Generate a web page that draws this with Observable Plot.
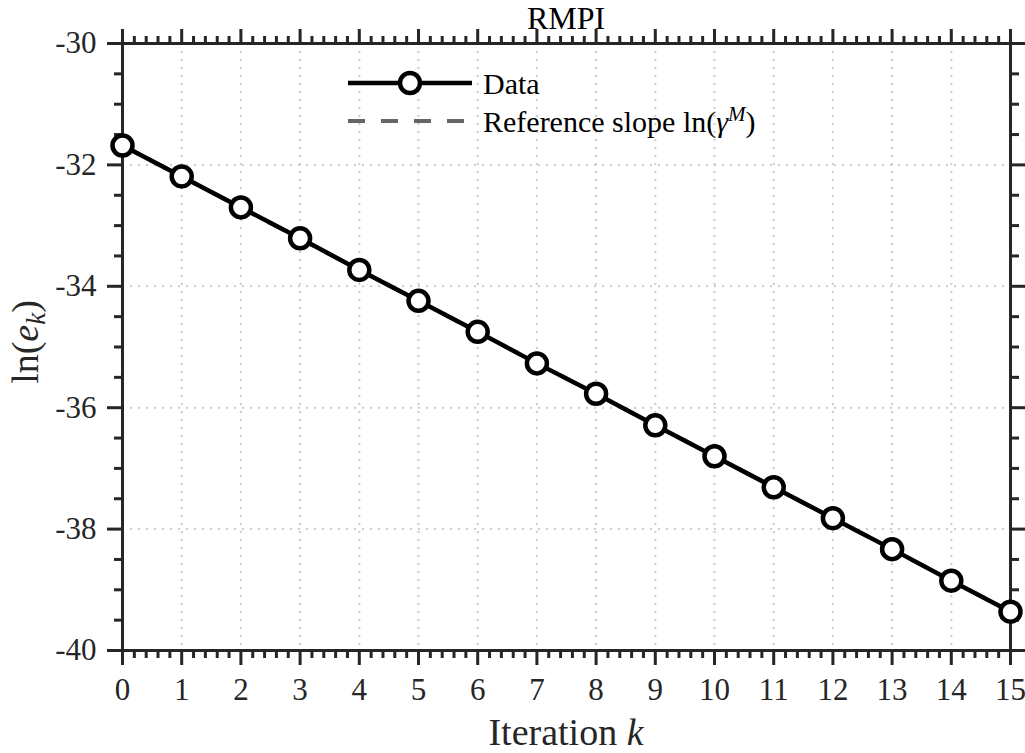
<!DOCTYPE html>
<html>
<head>
<meta charset="utf-8">
<script src="https://cdn.jsdelivr.net/npm/d3@7"></script>
<script src="https://cdn.jsdelivr.net/npm/@observablehq/plot@0.6"></script>
<style>
  html, body { margin: 0; padding: 0; background: #fff; }
  #chart svg { display: block; }
</style>
</head>
<body>
<div id="chart"></div>
<script>
// ---- data ----
const iterations = [0, 1, 2, 3, 4, 5, 6, 7, 8, 9, 10, 11, 12, 13, 14, 15];
const lnError = [-31.68, -32.19, -32.70, -33.21, -33.73, -34.24, -34.75, -35.27,
                 -35.77, -36.29, -36.80, -37.31, -37.82, -38.33, -38.85, -39.36];
const refK = [0, 15];
const refLn = [-31.68, -39.36];
const xMajorTicks = [0, 1, 2, 3, 4, 5, 6, 7, 8, 9, 10, 11, 12, 13, 14, 15];
const yMajorTicks = [-40, -38, -36, -34, -32, -30];
const titleText = "RMPI";
const legendLabels = ["Data", "Reference slope"];

// ---- derived ----
const data = iterations.map((k, i) => ({k, v: lnError[i]}));
const ref = refK.map((k, i) => ({k, v: refLn[i]}));
const xMinorTicks = d3.range(0, 75).map(i => i / 5).filter(v => Math.abs(v - Math.round(v)) > 1e-6);
const yMinorTicks = d3.range(-40, -29.99, 0.5).filter(v => !yMajorTicks.includes(v));

const axisColor = "#262626";
const font = "'Liberation Serif', 'DejaVu Serif', serif";
const blank = () => "";

const plot = Plot.plot({
  width: 1025,
  height: 753,
  marginLeft: 122,
  marginRight: 15,
  marginTop: 43,
  marginBottom: 103,
  x: {domain: [0, 15]},
  y: {domain: [-40, -30]},
  style: {fontFamily: font, fontSize: "30px", color: axisColor, background: "#fff"},
  marks: [
    Plot.gridX({ticks: xMajorTicks, stroke: "#cccccc", strokeOpacity: 1, strokeWidth: 2, strokeDasharray: "2,6"}),
    Plot.gridY({ticks: yMajorTicks, stroke: "#cccccc", strokeOpacity: 1, strokeWidth: 2, strokeDasharray: "2,6"}),
    Plot.frame({stroke: axisColor, strokeWidth: 3}),
    // bottom
    Plot.axisX({anchor: "bottom", ticks: xMajorTicks, tickSize: 15, tickPadding: 12, strokeWidth: 3, stroke: axisColor, tickFormat: d => String(d), label: null, fontSize: 31}),
    Plot.axisX({anchor: "bottom", ticks: xMinorTicks, tickSize: 8, strokeWidth: 3, stroke: axisColor, tickFormat: blank, label: null}),
    // top
    Plot.axisX({anchor: "top", ticks: xMajorTicks, tickSize: 15, strokeWidth: 3, stroke: axisColor, tickFormat: blank, label: null}),
    Plot.axisX({anchor: "top", ticks: xMinorTicks, tickSize: 8, strokeWidth: 3, stroke: axisColor, tickFormat: blank, label: null}),
    // left
    Plot.axisY({anchor: "left", ticks: yMajorTicks, tickSize: 15, tickPadding: 11, strokeWidth: 3, stroke: axisColor, tickFormat: d => String(d), label: null, fontSize: 31}),
    Plot.axisY({anchor: "left", ticks: yMinorTicks, tickSize: 8, strokeWidth: 3, stroke: axisColor, tickFormat: blank, label: null}),
    // right
    Plot.axisY({anchor: "right", ticks: yMajorTicks, tickSize: 15, strokeWidth: 3, stroke: axisColor, tickFormat: blank, label: null}),
    Plot.axisY({anchor: "right", ticks: yMinorTicks, tickSize: 8, strokeWidth: 3, stroke: axisColor, tickFormat: blank, label: null}),
    // series
    Plot.line(ref, {x: "k", y: "v", stroke: "#666", strokeWidth: 4, strokeDasharray: "17,16"}),
    Plot.line(data, {x: "k", y: "v", stroke: "#000", strokeWidth: 4.5}),
    Plot.dot(data, {x: "k", y: "v", r: 10, fill: "#fff", stroke: "#000", strokeWidth: 4.5})
  ]
});

document.getElementById("chart").appendChild(plot);

// ---- annotations: title, axis labels, legend ----
const svg = d3.select(plot);
const cx = (122 + (1025 - 15)) / 2;

svg.append("text")
  .attr("x", cx).attr("y", 29)
  .attr("text-anchor", "middle")
  .attr("fill", "#000")
  .style("font-family", font).style("font-size", "32px")
  .text(titleText);

const xl = svg.append("text")
  .attr("x", cx).attr("y", 745)
  .attr("text-anchor", "middle")
  .attr("fill", axisColor)
  .style("font-family", font).style("font-size", "38px");
xl.append("tspan").text("Iteration ");
xl.append("tspan").attr("font-style", "italic").text("k");

const yl = svg.append("text")
  .attr("transform", "translate(38,342) rotate(-90)")
  .attr("text-anchor", "middle")
  .attr("fill", axisColor)
  .style("font-family", font).style("font-size", "38px");
yl.append("tspan").text("ln(");
yl.append("tspan").attr("font-style", "italic").text("e");
yl.append("tspan").attr("font-style", "italic").attr("font-size", "27px").attr("dy", "7").text("k");
yl.append("tspan").attr("dy", "-7").text(")");

// legend
const lg = svg.append("g")
  .attr("text-anchor", "start")
  .style("font-family", font).style("font-size", "30px").attr("fill", "#000");
lg.append("line").attr("x1", 348).attr("x2", 472).attr("y1", 83).attr("y2", 83)
  .attr("stroke", "#000").attr("stroke-width", 4.5);
lg.append("circle").attr("cx", 410).attr("cy", 83).attr("r", 10)
  .attr("fill", "#fff").attr("stroke", "#000").attr("stroke-width", 4.5);
lg.append("text").attr("x", 483).attr("y", 83).attr("dy", "0.35em").attr("text-anchor", "start").text(legendLabels[0]);
lg.append("line").attr("x1", 348).attr("x2", 472).attr("y1", 121).attr("y2", 121)
  .attr("stroke", "#666").attr("stroke-width", 4).attr("stroke-dasharray", "17,16");
const t2 = lg.append("text").attr("x", 483).attr("y", 121).attr("dy", "0.35em").attr("text-anchor", "start");
t2.append("tspan").text(legendLabels[1] + " ln(");
t2.append("tspan").attr("font-style", "italic").text("γ");
t2.append("tspan").attr("font-style", "italic").attr("font-size", "21px").attr("dy", "-11").text("M");
t2.append("tspan").attr("dy", "11").text(")");
</script>
</body>
</html>
